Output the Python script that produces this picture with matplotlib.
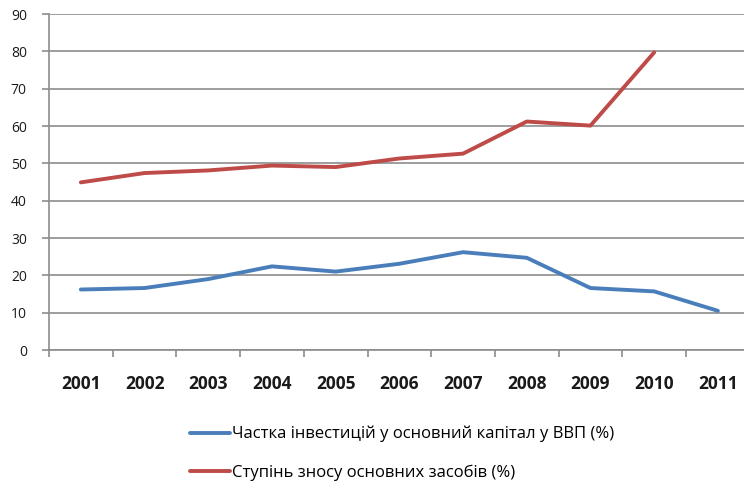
import matplotlib.pyplot as plt
from matplotlib.ticker import FixedLocator

plt.rcParams['font.family'] = ['Open Sans', 'DejaVu Sans']

years = ['2001', '2002', '2003', '2004', '2005', '2006',
         '2007', '2008', '2009', '2010', '2011']
invest_share = [16.2, 16.6, 19.0, 22.4, 21.0, 23.1, 26.2, 24.7, 16.6, 15.7, 10.5]
wear_degree = [44.9, 47.4, 48.1, 49.4, 49.0, 51.3, 52.6, 61.2, 60.1, 79.7]

label_invest = 'Частка інвестицій у основний капітал у ВВП (%)'
label_wear = 'Ступінь зносу основних засобів (%)'

blue = '#4A7EBB'
red = '#BE4B48'
grid_col = '#8C8C8C'

fig = plt.figure(figsize=(7.44, 4.83), dpi=100)
ax = fig.add_axes([49 / 744, 1 - 350 / 483, 1 - 49 / 744, (350 - 14) / 483])

x = list(range(len(years)))
l1, = ax.plot(x, invest_share, color=blue, lw=2.8, solid_capstyle='round',
              solid_joinstyle='round')
l2, = ax.plot(x[:len(wear_degree)], wear_degree, color=red, lw=2.8,
              solid_capstyle='round', solid_joinstyle='round')

ax.set_ylim(0, 90)
ax.set_xlim(-0.5, 10.41)
ax.set_yticks(range(0, 91, 10))
ax.yaxis.grid(True, color=grid_col, lw=1.2)
ax.set_axisbelow(True)

ax.set_xticks(x)
ax.set_xticklabels(years, fontweight='bold', fontsize=12.5, color='#1a1a1a')
ax.xaxis.set_minor_locator(FixedLocator([i - 0.5 for i in range(len(years) + 1)]))
ax.tick_params(axis='x', which='major', length=0, pad=18)
ax.tick_params(axis='x', which='minor', length=5, width=1.2, color=grid_col)
ax.tick_params(axis='y', length=5, width=1.2, color=grid_col, labelsize=10,
               labelcolor='#1a1a1a', pad=11)

for side in ['top', 'right']:
    ax.spines[side].set_visible(False)
for side in ['left', 'bottom']:
    ax.spines[side].set_color(grid_col)
    ax.spines[side].set_linewidth(1.2)

fig.legend([l1, l2], [label_invest, label_wear], loc='upper left',
           bbox_to_anchor=(190 / 744, 1 - 426 / 483), frameon=False,
           fontsize=12, handlelength=2.4, handletextpad=0.15,
           labelspacing=1.3, borderpad=0, borderaxespad=0)

fig.savefig('out.png', dpi=100)
